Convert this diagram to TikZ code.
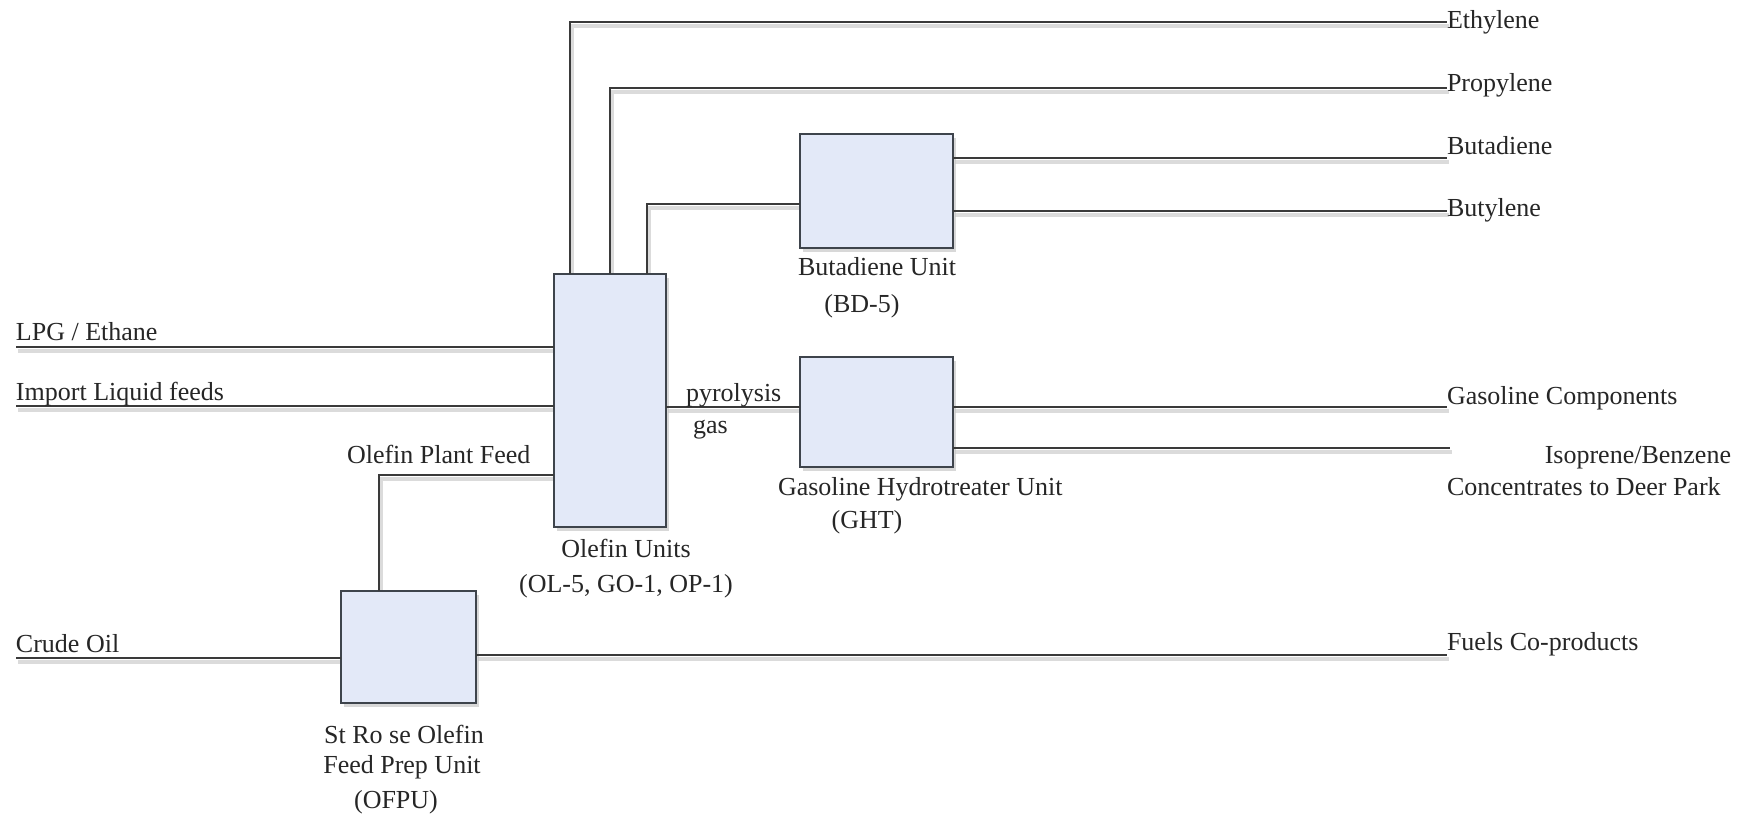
\documentclass[tikz,border=0pt]{standalone}
\usepackage{fontspec}
\setmainfont{Liberation Serif}
\usetikzlibrary{shadows}
\definecolor{boxfill}{HTML}{E3E9F8}
\definecolor{boxline}{HTML}{3E444C}
\definecolor{flow}{HTML}{3A3A3A}
\begin{document}
\begin{tikzpicture}[x=0.5pt,y=-0.5pt,
  unitbox/.style={draw=boxline, fill=boxfill, line width=1.1pt, inner sep=0pt, outer sep=0pt,
    drop shadow={shadow xshift=1.5pt, shadow yshift=-2pt, fill=black!25, opacity=0.6}},
  flowline/.style={draw=flow, line width=1.1pt},
  shade/.style={draw=black!14, line width=2pt, transform canvas={xshift=1pt, yshift=-2pt}},
  lbl/.style={inner sep=0pt, outer sep=0pt, font=\fontsize{13}{16}\selectfont, text=black!85},
  lw/.style={lbl, anchor=base west},
  le/.style={lbl, anchor=base east},
  lc/.style={lbl, anchor=base}]
\useasboundingbox[fill=white] (0,0) rectangle (1750,815);

% free ends and tap coordinates
\coordinate (ethE) at (1447,22);
\coordinate (proE) at (1447,88);
\coordinate (budE) at (1447,158);
\coordinate (butE) at (1447,211);
\coordinate (gasE) at (1447,407);
\coordinate (isoE) at (1450,448);
\coordinate (fueE) at (1447,655);
\coordinate (lpgS) at (16,347);
\coordinate (impS) at (16,406);
\coordinate (cruS) at (16,658);
\coordinate (tapA) at (570,0);
\coordinate (tapB) at (610,0);
\coordinate (tapC) at (647,0);
\coordinate (tapD) at (379,0);

% shadows of the connectors
\begin{scope}
\draw[shade] (570,274) |- (ethE);
\draw[shade] (610,274) |- (proE);
\draw[shade] (647,274) |- (800,204);
\draw[shade] (953,158) -- (budE);
\draw[shade] (953,211) -- (butE);
\draw[shade] (lpgS) -- (554,347);
\draw[shade] (impS) -- (554,406);
\draw[shade] (666,407) -- (800,407);
\draw[shade] (953,407) -- (gasE);
\draw[shade] (953,448) -- (isoE);
\draw[shade] (379,591) |- (554,475);
\draw[shade] (cruS) -- (341,658);
\draw[shade] (476,655) -- (fueE);
\end{scope}

% unit boxes
\node[unitbox, minimum width=56pt, minimum height=126.5pt] (ol) at (610,400.5) {};
\node[unitbox, minimum width=76.5pt, minimum height=57pt] (bd) at (876.5,191) {};
\node[unitbox, minimum width=76.5pt, minimum height=55pt] (ght) at (876.5,412) {};
\node[unitbox, minimum width=67.5pt, minimum height=56pt] (ofpu) at (408.5,647) {};

% connectors
\draw[flowline] (ol.north -| tapA) |- (ethE);
\draw[flowline] (ol.north -| tapB) |- (proE);
\draw[flowline] (ol.north -| tapC) |- (bd.west |- 0,204);
\draw[flowline] (bd.east |- budE) -- (budE);
\draw[flowline] (bd.east |- butE) -- (butE);
\draw[flowline] (lpgS) -- (lpgS -| ol.west);
\draw[flowline] (impS) -- (impS -| ol.west);
\draw[flowline] (ol.east |- gasE) -- (ght.west |- gasE);
\draw[flowline] (ght.east |- gasE) -- (gasE);
\draw[flowline] (ght.east |- isoE) -- (isoE);
\draw[flowline] (ofpu.north -| tapD) |- (ol.west |- 0,475);
\draw[flowline] (cruS) -- (cruS -| ofpu.west);
\draw[flowline] (ofpu.east |- fueE) -- (fueE);

% labels
\node[lw] (tEth) at (1447,28) {Ethylene};
\node[lw] (tPro) at (1447,91) {Propylene};
\node[lw] (tBud) at (1447,154) {Butadiene};
\node[lw] (tBut) at (1447,216) {Butylene};
\node[lw] (tGas) at (1447,404) {Gasoline Components};
\node[le] (tIso) at (1731,463) {Isoprene/Benzene};
\node[lw] (tCon) at (1447,495) {Concentrates to Deer Park};
\node[lw] (tFue) at (1447,650) {Fuels Co-products};
\node[lw] (tLpg) at (16,340) {LPG / Ethane};
\node[lw] (tImp) at (16,400) {Import Liquid feeds};
\node[lw] (tCru) at (16,652) {Crude Oil};
\node[lw] (tOpf) at (347,463) {Olefin Plant Feed};
\node[lw] (tPyr) at (686,401) {pyrolysis};
\node[lw] (tGs) at (693,433) {gas};
\node[lw] (tBdu) at (798,275) {Butadiene Unit};
\node[lc] (tBd5) at (862,312) {(BD-5)};
\node[lw] (tGhu) at (778,495) {Gasoline Hydrotreater Unit};
\node[lc] (tGht) at (867,528) {(GHT)};
\node[lc] (tOlu) at (626,557) {Olefin Units};
\node[lc] (tOl5) at (626,592) {(OL-5, GO-1, OP-1)};
\node[lc] (tSr1) at (404,743) {St Ro se Olefin};
\node[lc] (tSr2) at (402,773) {Feed Prep Unit};
\node[lc] (tSr3) at (396,808) {(OFPU)};
\end{tikzpicture}
\end{document}
